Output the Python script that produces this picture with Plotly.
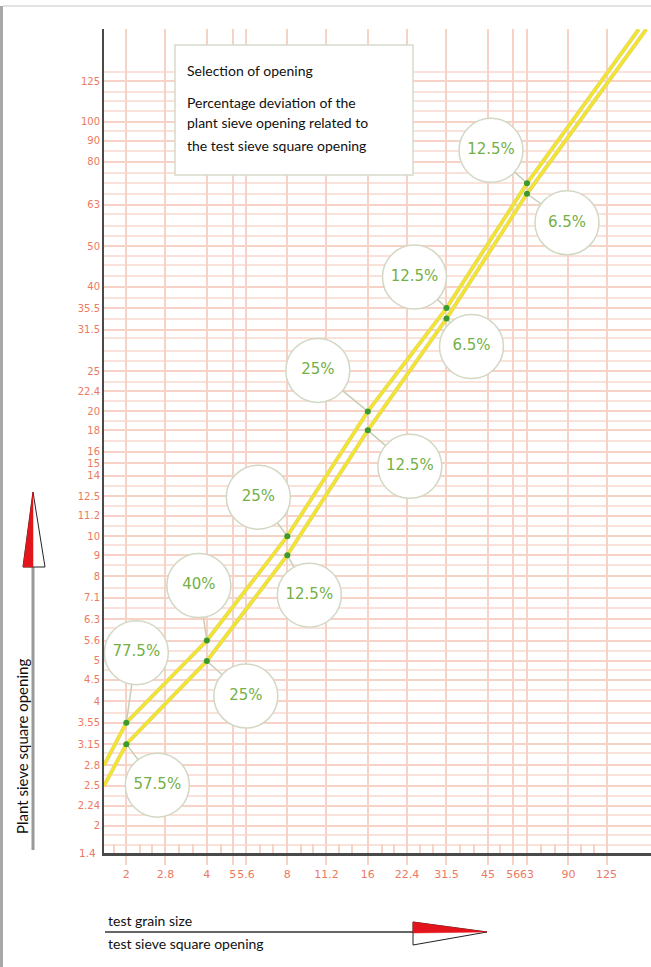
import math
import plotly.graph_objects as go

# ---------------- data ----------------
test_sizes = [2, 4, 8, 16, 31.5, 63]                 # test sieve square opening
upper_open = [3.55, 5.6, 10, 20, 35.5, 71]           # plant sieve opening, upper line
lower_open = [3.15, 5.0, 9, 18, 33.5, 67]            # plant sieve opening, lower line
upper_pct = ["77.5%", "40%", "25%", "25%", "12.5%", "12.5%"]
lower_pct = ["57.5%", "25%", "12.5%", "12.5%", "6.5%", "6.5%"]

# where the two lines enter (left edge) and leave (top edge) the grid
line_start_x = 1.65
upper_start_y, lower_start_y = 2.8, 2.5
upper_end_x, lower_end_x = 165, 176
line_end_y = 167

x_tick_vals = [2, 2.8, 4, 5, 5.6, 8, 11.2, 16, 22.4, 31.5, 45, 56, 63, 90, 125]
x_tick_text = ["2", "2.8", "4", "5", "5.6", "8", "11.2", "16", "22.4", "31.5",
               "45", "56", "63", "90", "125"]
x_minor_vals = [1.8, 2.24, 2.5, 3.15, 3.55, 4.5, 6.3, 7.1, 9, 10, 12.5, 14, 18, 20,
                25, 28, 35.5, 40, 50, 71, 80, 100, 112]
y_tick_vals = [2, 2.24, 2.5, 2.8, 3.15, 3.55, 4, 4.5, 5, 5.6, 6.3, 7.1, 8, 9, 10,
               11.2, 12.5, 14, 15, 16, 18, 20, 22.4, 25, 31.5, 35.5, 40, 50, 63,
               80, 90, 100, 125]
y_tick_text = ["2", "2.24", "2.5", "2.8", "3.15", "3.55", "4", "4.5", "5", "5.6",
               "6.3", "7.1", "8", "9", "10", "11.2", "12.5", "14", "15", "16", "18",
               "20", "22.4", "25", "31.5", "35.5", "40", "50", "63", "80", "90",
               "100", "125"]
y_minor_vals = [1.8, 1.9, 2.12, 2.36, 2.65, 3.0, 3.35, 3.75, 4.25, 4.75, 5.3, 6.0,
                6.7, 7.5, 8.5, 9.5, 10.6, 11.8, 13.2, 17, 19, 21.2, 23.6, 26.5, 28,
                30, 33.5, 37.5, 42.5, 45, 47.5, 53, 56, 60, 67, 71, 75, 85, 95,
                106, 112, 118, 132]
origin_label = "1.4"

x_range = [1.65, 183.3]
y_range = [1.721, 167.3]

# ---------------- layout geometry ----------------
W, H = 651, 967
ML, MR, MT, MB = 104, 0, 29, 114
PW, PH = W - ML - MR, H - MT - MB


def px(xp):
    return (xp - ML) / PW


def py(yp):
    return (H - MB - yp) / PH


# pixels per decade on each log axis (used to place callout bubbles by pixel offset)
KX = PW / math.log10(x_range[1] / x_range[0])
KY = PH / math.log10(y_range[1] / y_range[0])

# pixel offsets of the callout bubbles from their dots (right / up positive)
upper_offsets = [(10, 70), (-8, 55), (-29, 39), (-50, 41), (-32, 31), (-36, 33)]
lower_offsets = [(31, -41), (39, -35), (22, -40), (42, -36), (25, -28), (40, -29)]
BUBBLE_D = 64

TICK_RED = "#ec7a62"
GRID = "#f7d2c6"
GRID_MINOR = "#fae2da"
GREEN_TXT = "#74b046"
GREEN_DOT = "#3b9a2c"
BUBBLE_LINE = "#d3d8c4"

fig = go.Figure()

# callout geometry (in data space, from the dots + pixel offsets)
dot_x, dot_y, lab, cx, cy = [], [], [], [], []
for ys_, labels, offs in [(upper_open, upper_pct, upper_offsets),
                          (lower_open, lower_pct, lower_offsets)]:
    for xv, yv, t, (dx, dy) in zip(test_sizes, ys_, labels, offs):
        dot_x.append(xv)
        dot_y.append(yv)
        lab.append(t)
        cx.append(xv * 10 ** (dx / KX))
        cy.append(yv * 10 ** (dy / KY))

# connectors
con_x, con_y = [], []
for a, b, c, d in zip(dot_x, dot_y, cx, cy):
    con_x += [a, c, None]
    con_y += [b, d, None]
fig.add_trace(go.Scatter(x=con_x, y=con_y, mode="lines",
                         line=dict(color="#c8ceb4", width=1.5),
                         hoverinfo="skip", showlegend=False))

upper_x = [line_start_x] + test_sizes + [upper_end_x]
upper_y = [upper_start_y] + upper_open + [line_end_y]
lower_x = [line_start_x] + test_sizes + [lower_end_x]
lower_y = [lower_start_y] + lower_open + [line_end_y]

for xs, ys in [(upper_x, upper_y), (lower_x, lower_y)]:
    fig.add_trace(go.Scatter(x=xs, y=ys, mode="lines",
                             line=dict(color="#e4d86e", width=4),
                             hoverinfo="skip", showlegend=False))
    fig.add_trace(go.Scatter(x=xs, y=ys, mode="lines",
                             line=dict(color="#f6e720", width=2),
                             hoverinfo="skip", showlegend=False))

fig.add_trace(go.Scatter(x=test_sizes + test_sizes, y=upper_open + lower_open,
                         mode="markers",
                         marker=dict(color=GREEN_DOT, size=6),
                         showlegend=False))

# bubbles
fig.add_trace(go.Scatter(x=cx, y=cy, mode="markers+text", text=lab,
                         textposition="middle center",
                         textfont=dict(family="DejaVu Sans", size=15, color=GREEN_TXT),
                         marker=dict(size=BUBBLE_D, color="white",
                                     line=dict(color=BUBBLE_LINE, width=1.5)),
                         cliponaxis=False, hoverinfo="skip", showlegend=False))

shapes = []
annotations = []

# info box
shapes.append(dict(type="rect", xref="paper", yref="paper",
                   x0=px(175), x1=px(413), y0=py(175), y1=py(45),
                   fillcolor="white", line=dict(color="#d6dbcc", width=1.5),
                   layer="above"))
box_lines = [("Selection of opening", 70),
             ("Percentage deviation of the", 102),
             ("plant sieve opening related to", 123),
             ("the test sieve square opening", 145)]
for txt, yy in box_lines:
    annotations.append(dict(x=px(185), y=py(yy), xref="paper", yref="paper",
                            xanchor="left", yanchor="middle", text=txt,
                            showarrow=False,
                            font=dict(family="Lato", size=14, color="#111111")))

# origin label
annotations.append(dict(x=px(77), y=py(853), xref="paper", yref="paper",
                        xanchor="left", yanchor="middle", text=origin_label,
                        showarrow=False,
                        font=dict(family="DejaVu Sans", size=10.5, color=TICK_RED)))

# axis titles
annotations.append(dict(x=px(22), y=py(747), xref="paper", yref="paper",
                        xanchor="center", yanchor="middle",
                        text="Plant sieve square opening", textangle=-90,
                        showarrow=False,
                        font=dict(family="Lato", size=15, color="#111111")))
annotations.append(dict(x=px(106), y=py(920), xref="paper", yref="paper",
                        xanchor="left", yanchor="middle", text="test grain size",
                        showarrow=False,
                        font=dict(family="Lato", size=14, color="#111111")))
annotations.append(dict(x=px(106), y=py(943), xref="paper", yref="paper",
                        xanchor="left", yanchor="middle",
                        text="test sieve square opening", showarrow=False,
                        font=dict(family="Lato", size=14, color="#111111")))

# y arrow
shapes.append(dict(type="line", xref="paper", yref="paper",
                   x0=px(33), x1=px(33), y0=py(850), y1=py(566),
                   line=dict(color="#9a9a9a", width=3)))
shapes.append(dict(type="path", xref="paper", yref="paper",
                   path=f"M {px(23)},{py(567)} L {px(33)},{py(492)} L {px(45)},{py(567)} Z",
                   fillcolor="white", line=dict(color="#222222", width=1)))
shapes.append(dict(type="path", xref="paper", yref="paper",
                   path=f"M {px(23)},{py(567)} L {px(33)},{py(492)} L {px(33)},{py(567)} Z",
                   fillcolor="#e3141b", line=dict(color="#e3141b", width=0.5)))

# x arrow
shapes.append(dict(type="line", xref="paper", yref="paper",
                   x0=px(105), x1=px(415), y0=py(932), y1=py(932),
                   line=dict(color="#333333", width=1.5)))
shapes.append(dict(type="path", xref="paper", yref="paper",
                   path=f"M {px(413)},{py(922)} L {px(487)},{py(932)} L {px(413)},{py(945)} Z",
                   fillcolor="white", line=dict(color="#222222", width=1)))
shapes.append(dict(type="path", xref="paper", yref="paper",
                   path=f"M {px(413)},{py(922)} L {px(487)},{py(932)} L {px(413)},{py(933)} Z",
                   fillcolor="#e3141b", line=dict(color="#e3141b", width=0.5)))

# page frame
shapes.append(dict(type="line", xref="paper", yref="paper",
                   x0=px(1.5), x1=px(1.5), y0=py(967), y1=py(6),
                   line=dict(color="#a8a8a8", width=3)))
shapes.append(dict(type="line", xref="paper", yref="paper",
                   x0=px(3), x1=px(651), y0=py(6), y1=py(6),
                   line=dict(color="#e2e2e2", width=2)))

fig.update_layout(
    width=W, height=H, autosize=False,
    margin=dict(l=ML, r=MR, t=MT, b=MB),
    paper_bgcolor="white", plot_bgcolor="white",
    showlegend=False,
    shapes=shapes, annotations=annotations,
    xaxis=dict(type="log", range=[math.log10(v) for v in x_range],
               tickmode="array", tickvals=x_tick_vals, ticktext=x_tick_text,
               tickangle=0, ticks="outside", ticklen=9, tickwidth=1.5,
               tickcolor=GRID,
               tickfont=dict(family="DejaVu Sans", size=11, color=TICK_RED),
               showgrid=True, gridcolor=GRID, gridwidth=1.5,
               showline=True, linecolor="#4a4a4a", linewidth=2.5,
               zeroline=False,
               minor=dict(tickmode="array", tickvals=x_minor_vals, ticks="inside",
                          ticklen=9, tickwidth=1.5, tickcolor=GRID, showgrid=False)),
    yaxis=dict(type="log", range=[math.log10(v) for v in y_range],
               tickmode="array", tickvals=y_tick_vals, ticktext=y_tick_text,
               ticks="", tickfont=dict(family="DejaVu Sans", size=10, color=TICK_RED),
               showgrid=True, gridcolor=GRID, gridwidth=1.5,
               showline=True, linecolor="#4a4a4a", linewidth=2,
               zeroline=False,
               minor=dict(tickmode="array", tickvals=y_minor_vals, ticks="",
                          showgrid=True, gridcolor=GRID_MINOR, gridwidth=1.5)),
)

fig.write_html("out.html")
